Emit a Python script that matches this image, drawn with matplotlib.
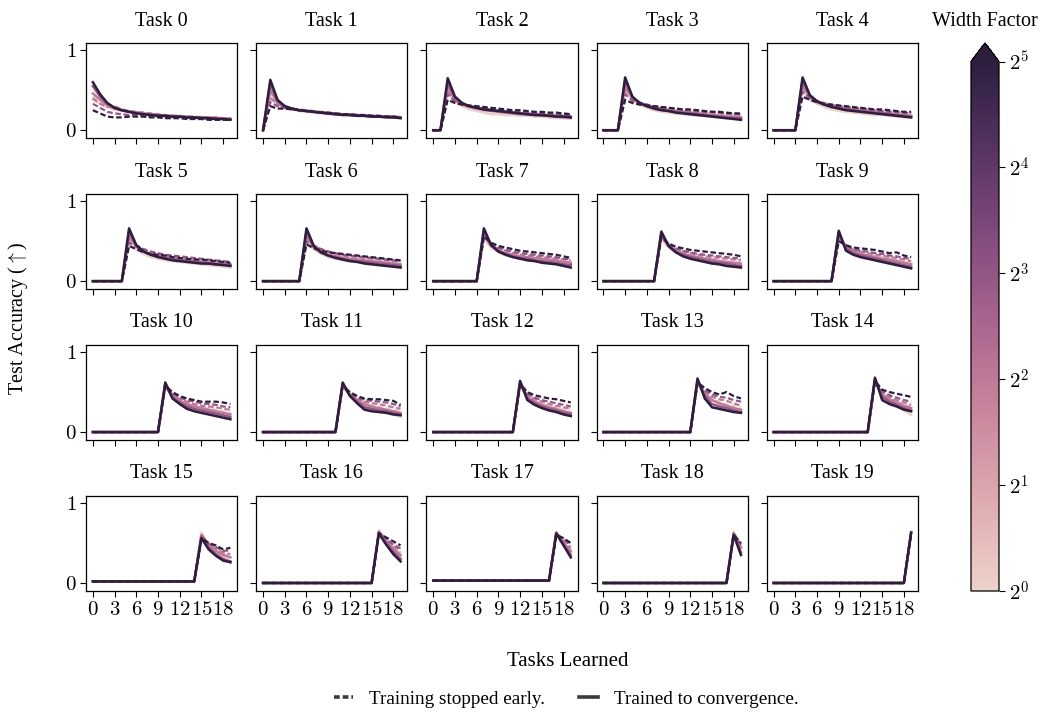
import matplotlib
matplotlib.use("Agg")
import matplotlib.pyplot as plt
import seaborn as sns
from matplotlib.colors import LogNorm
from matplotlib.cm import ScalarMappable
from matplotlib.lines import Line2D
from matplotlib.ticker import NullLocator

plt.rcParams['font.family'] = ['Liberation Serif', 'DejaVu Serif']
plt.rcParams['mathtext.fontset'] = 'cm'

# ---------------- data ----------------
tasks = list(range(20))
widths = [1, 4, 8, 32]
xtick_vals = [0, 3, 6, 9, 12, 15, 18]
xtick_labels = ['$0$', '$3$', '$6$', '$9$', '$12$', '$15$', '$18$']
ytick_vals = [0, 1]
ytick_labels = ['$0$', '$1$']
cbar_ticks = [1, 2, 4, 8, 16, 32]
cbar_labels = ['$2^0$', '$2^1$', '$2^2$', '$2^3$', '$2^4$', '$2^5$']

# accuracy on task t before it has been learned
pre_acc = [0, 0, 0, 0, 0, 0, 0, 0, 0, 0,
           0, 0, 0, 0, 0, 0.02, 0, 0.03, 0, 0]

# accuracy on task t from the moment it is learned (x = t .. 19)
conv = {
    32: [
        [.60, .45, .34, .28, .25, .23, .21, .20, .19, .18, .18, .17, .17, .16, .16, .15, .15, .14, .14, .13],
        [.63, .38, .30, .27, .25, .24, .23, .22, .21, .20, .19, .19, .18, .18, .17, .17, .16, .16, .15],
        [.65, .42, .34, .30, .28, .26, .25, .24, .23, .22, .21, .20, .19, .19, .18, .17, .17, .16],
        [.66, .42, .34, .30, .27, .25, .24, .22, .21, .20, .19, .18, .17, .16, .15, .14, .13],
        [.66, .44, .36, .32, .29, .27, .25, .24, .23, .22, .21, .20, .19, .18, .17, .16],
        [.66, .45, .37, .33, .30, .28, .26, .25, .24, .23, .22, .22, .21, .20, .19],
        [.66, .44, .36, .32, .29, .27, .25, .24, .22, .21, .20, .19, .18, .17],
        [.66, .45, .37, .33, .30, .28, .26, .25, .23, .22, .21, .19, .17],
        [.62, .44, .36, .31, .28, .26, .24, .22, .21, .19, .18, .17],
        [.63, .38, .33, .30, .28, .26, .24, .22, .20, .18, .16],
        [.62, .42, .35, .29, .26, .24, .22, .20, .18, .16],
        [.62, .45, .36, .28, .26, .25, .24, .22, .21],
        [.64, .40, .34, .30, .27, .25, .22, .20],
        [.67, .42, .31, .29, .27, .25, .24],
        [.68, .40, .35, .32, .28, .26],
        [.56, .42, .34, .28, .26],
        [.62, .48, .36, .27],
        [.62, .47, .32],
        [.60, .35],
        [.63],
    ],
    8: [
        [.55, .42, .33, .28, .25, .23, .22, .20, .19, .19, .18, .17, .17, .16, .16, .16, .15, .15, .14, .14],
        [.58, .36, .30, .27, .25, .24, .23, .22, .21, .20, .20, .19, .18, .18, .17, .17, .17, .16, .16],
        [.60, .40, .33, .30, .28, .26, .25, .24, .23, .22, .21, .20, .20, .19, .18, .18, .17, .17],
        [.62, .41, .34, .30, .28, .26, .24, .23, .22, .21, .20, .19, .18, .17, .16, .15, .15],
        [.62, .43, .36, .32, .30, .28, .26, .25, .24, .23, .22, .21, .20, .19, .18, .17],
        [.62, .44, .37, .33, .31, .29, .27, .26, .25, .24, .23, .22, .21, .21, .20],
        [.62, .43, .36, .32, .30, .28, .26, .25, .24, .23, .22, .21, .20, .19],
        [.63, .45, .38, .34, .31, .29, .28, .26, .25, .24, .23, .21, .20],
        [.60, .44, .37, .33, .30, .28, .26, .24, .23, .22, .20, .19],
        [.61, .40, .35, .32, .30, .28, .26, .24, .22, .20, .18],
        [.60, .43, .37, .32, .29, .27, .25, .23, .21, .19],
        [.60, .46, .38, .31, .29, .27, .26, .24, .22],
        [.62, .42, .36, .32, .29, .27, .24, .22],
        [.65, .45, .35, .32, .30, .27, .25],
        [.66, .44, .38, .34, .30, .27],
        [.58, .44, .36, .30, .27],
        [.63, .50, .39, .30],
        [.62, .48, .35],
        [.61, .38],
        [.63],
    ],
    4: [
        [.46, .38, .31, .27, .25, .23, .22, .21, .20, .19, .18, .18, .17, .17, .16, .16, .16, .15, .15, .14],
        [.50, .34, .29, .27, .25, .24, .23, .22, .21, .20, .20, .19, .19, .18, .18, .17, .17, .17, .16],
        [.55, .38, .32, .29, .27, .25, .24, .23, .22, .21, .20, .20, .19, .18, .18, .17, .16, .16],
        [.56, .40, .34, .31, .29, .27, .25, .24, .23, .22, .21, .20, .19, .18, .17, .17, .16],
        [.57, .41, .35, .32, .30, .28, .27, .26, .25, .24, .23, .22, .21, .20, .19, .18],
        [.57, .43, .37, .34, .31, .29, .28, .27, .26, .25, .24, .23, .22, .21, .21],
        [.57, .42, .36, .33, .31, .29, .28, .27, .26, .25, .24, .23, .22, .21],
        [.58, .44, .38, .35, .33, .31, .30, .29, .28, .27, .26, .24, .23],
        [.57, .44, .38, .34, .32, .30, .28, .27, .25, .24, .23, .22],
        [.58, .42, .37, .34, .32, .30, .28, .27, .25, .23, .21],
        [.58, .45, .39, .35, .32, .30, .28, .26, .24, .22],
        [.58, .47, .40, .35, .32, .30, .28, .26, .24],
        [.60, .44, .38, .34, .31, .29, .26, .24],
        [.63, .48, .40, .36, .33, .30, .28],
        [.64, .47, .41, .37, .33, .30],
        [.60, .47, .40, .35, .32],
        [.64, .53, .43, .35],
        [.63, .50, .40],
        [.62, .44],
        [.63],
    ],
    1: [
        [.38, .33, .29, .26, .24, .23, .22, .21, .20, .19, .18, .18, .17, .17, .16, .16, .15, .15, .15, .14],
        [.42, .32, .28, .26, .24, .23, .22, .21, .20, .20, .19, .19, .18, .18, .17, .17, .17, .16, .16],
        [.48, .35, .30, .26, .24, .22, .20, .20, .19, .19, .18, .18, .17, .17, .16, .15, .15, .14],
        [.50, .37, .32, .28, .25, .23, .22, .21, .20, .19, .18, .18, .17, .16, .15, .15, .14],
        [.50, .38, .33, .29, .26, .24, .23, .22, .21, .20, .19, .19, .18, .17, .16, .16],
        [.50, .40, .34, .30, .28, .26, .25, .24, .23, .22, .21, .20, .19, .18, .17],
        [.50, .40, .34, .30, .28, .26, .25, .24, .23, .22, .21, .20, .19, .18],
        [.52, .42, .36, .32, .30, .28, .27, .26, .25, .24, .23, .22, .21],
        [.52, .42, .36, .33, .30, .28, .27, .25, .24, .22, .21, .20],
        [.55, .43, .38, .35, .33, .31, .29, .28, .26, .24, .22],
        [.56, .45, .39, .35, .32, .30, .28, .26, .25, .23],
        [.57, .46, .40, .34, .30, .27, .25, .22, .19],
        [.58, .44, .38, .34, .31, .28, .26, .23],
        [.61, .47, .40, .35, .31, .27, .24],
        [.62, .45, .38, .33, .27, .22],
        [.63, .48, .40, .33, .25],
        [.66, .52, .41, .33],
        [.64, .50, .38],
        [.64, .46],
        [.64],
    ],
}

early = {
    32: [
        [.25, .21, .17, .16, .16, .17, .17, .17, .16, .16, .15, .15, .15, .14, .14, .14, .13, .13, .13, .13],
        [.30, .27, .27, .26, .25, .24, .23, .22, .22, .21, .20, .20, .19, .19, .18, .18, .17, .17, .16],
        [.38, .34, .32, .31, .30, .29, .28, .27, .26, .25, .25, .24, .23, .23, .22, .22, .21, .20],
        [.38, .34, .32, .31, .30, .29, .28, .27, .26, .26, .25, .24, .23, .23, .22, .21, .21],
        [.42, .38, .35, .33, .32, .31, .30, .29, .28, .27, .26, .26, .25, .24, .23, .23],
        [.44, .40, .36, .34, .33, .32, .30, .29, .28, .27, .27, .26, .25, .24, .23],
        [.46, .41, .38, .36, .35, .34, .33, .32, .31, .30, .29, .28, .27, .26],
        [.56, .48, .44, .42, .40, .38, .37, .36, .35, .34, .33, .31, .29],
        [.55, .47, .43, .41, .39, .38, .37, .36, .35, .34, .33, .31],
        [.50, .45, .42, .41, .40, .39, .37, .35, .36, .32, .30],
        [.58, .50, .45, .42, .40, .38, .38, .38, .37, .35],
        [.58, .50, .45, .42, .41, .41, .40, .39, .34],
        [.60, .50, .46, .44, .42, .41, .39, .37],
        [.62, .55, .50, .47, .50, .45, .42],
        [.64, .53, .50, .48, .46, .44],
        [.56, .50, .47, .42, .44],
        [.62, .57, .52, .47],
        [.60, .56, .50],
        [.60, .50],
        [.62],
    ],
    8: [
        [.33, .28, .23, .21, .20, .19, .19, .18, .17, .17, .16, .16, .16, .15, .15, .15, .14, .14, .14, .13],
        [.35, .30, .28, .26, .25, .24, .23, .22, .21, .21, .20, .19, .19, .18, .18, .17, .17, .17, .16],
        [.45, .36, .32, .30, .29, .28, .27, .26, .25, .24, .23, .23, .22, .21, .21, .20, .20, .19],
        [.45, .37, .34, .32, .30, .29, .28, .27, .26, .25, .24, .23, .23, .22, .21, .21, .20],
        [.48, .40, .36, .33, .31, .30, .29, .28, .27, .26, .25, .24, .23, .23, .22, .21],
        [.48, .44, .40, .37, .35, .33, .32, .31, .30, .29, .28, .27, .26, .25, .24],
        [.50, .44, .40, .37, .35, .33, .32, .31, .30, .29, .28, .27, .26, .25],
        [.56, .47, .42, .39, .37, .35, .34, .33, .32, .31, .30, .28, .27],
        [.56, .46, .41, .38, .36, .34, .33, .32, .31, .30, .29, .28],
        [.55, .44, .40, .38, .37, .35, .34, .32, .31, .29, .28],
        [.58, .48, .43, .40, .38, .36, .35, .34, .32, .31],
        [.58, .48, .43, .40, .39, .38, .37, .35, .32],
        [.60, .48, .43, .40, .38, .36, .34, .32],
        [.62, .52, .47, .44, .43, .40, .38],
        [.64, .51, .46, .43, .40, .38],
        [.58, .49, .45, .40, .41],
        [.63, .55, .48, .43],
        [.61, .55, .47],
        [.61, .48],
        [.62],
    ],
    4: [
        [.40, .33, .29, .30, .26, .24, .23, .22, .21, .20, .19, .18, .18, .17, .17, .16, .16, .16, .15, .15],
        [.40, .33, .29, .27, .26, .25, .24, .23, .22, .21, .20, .20, .19, .19, .18, .18, .17, .17, .17],
        [.50, .37, .32, .30, .28, .27, .26, .25, .24, .23, .22, .22, .21, .20, .20, .19, .19, .18],
        [.52, .40, .35, .32, .30, .28, .27, .26, .25, .24, .23, .23, .22, .21, .20, .20, .19],
        [.54, .42, .37, .34, .32, .30, .29, .28, .27, .26, .25, .24, .23, .22, .22, .21],
        [.54, .45, .40, .36, .34, .32, .31, .30, .29, .28, .27, .26, .25, .24, .23],
        [.55, .45, .40, .37, .34, .32, .31, .30, .29, .28, .27, .26, .25, .24],
        [.57, .46, .41, .38, .35, .33, .32, .31, .30, .29, .28, .27, .26],
        [.57, .45, .40, .37, .35, .33, .31, .30, .29, .28, .27, .26],
        [.57, .43, .39, .37, .35, .33, .32, .30, .29, .27, .25],
        [.60, .47, .41, .38, .35, .33, .32, .31, .29, .28],
        [.59, .47, .41, .38, .36, .35, .33, .31, .29],
        [.61, .47, .41, .38, .35, .33, .31, .29],
        [.62, .50, .44, .41, .39, .36, .33],
        [.64, .50, .44, .40, .37, .34],
        [.60, .49, .43, .38, .36],
        [.64, .54, .46, .40],
        [.62, .53, .44],
        [.62, .46],
        [.62],
    ],
    1: [
        [.42, .35, .31, .28, .26, .24, .23, .22, .21, .20, .19, .19, .18, .17, .17, .17, .16, .16, .15, .15],
        [.45, .34, .29, .27, .25, .24, .23, .22, .21, .21, .20, .19, .19, .18, .18, .17, .17, .16, .16],
        [.52, .38, .32, .29, .27, .26, .25, .24, .23, .22, .21, .21, .20, .19, .19, .18, .18, .17],
        [.55, .41, .35, .31, .29, .27, .26, .25, .24, .23, .22, .21, .21, .20, .19, .19, .18],
        [.57, .43, .37, .33, .31, .29, .27, .26, .25, .24, .23, .22, .22, .21, .20, .20],
        [.56, .44, .38, .34, .32, .30, .28, .27, .26, .25, .24, .23, .22, .21, .20],
        [.57, .44, .38, .34, .32, .30, .28, .27, .26, .25, .24, .23, .22, .21],
        [.58, .45, .39, .35, .33, .31, .29, .28, .27, .26, .25, .24, .23],
        [.58, .44, .38, .34, .32, .30, .28, .27, .26, .25, .24, .23],
        [.58, .43, .38, .35, .33, .31, .30, .28, .27, .25, .24],
        [.62, .46, .40, .36, .33, .31, .30, .28, .26, .25],
        [.60, .46, .40, .36, .34, .32, .30, .28, .26],
        [.62, .46, .40, .36, .33, .31, .29, .27],
        [.63, .49, .42, .38, .35, .33, .31],
        [.65, .49, .42, .38, .35, .32],
        [.62, .48, .41, .36, .33],
        [.65, .53, .44, .37],
        [.63, .52, .41],
        [.63, .47],
        [.63],
    ],
}

# ---------------- figure ----------------
W, H = 1045, 717
fig, axes = plt.subplots(4, 5, figsize=(W / 100, H / 100), dpi=100,
                         sharex=True, sharey=True)
fig.subplots_adjust(left=86 / W, right=918 / W, top=1 - 43 / H,
                    bottom=1 - 591 / H, wspace=0.125, hspace=0.585)

cmap = sns.cubehelix_palette(as_cmap=True)
norm = LogNorm(vmin=1, vmax=32)

for t, ax in enumerate(axes.flat):
    for w in widths:
        col = cmap(norm(w))
        y_e = [pre_acc[t]] * t + early[w][t]
        y_c = [pre_acc[t]] * t + conv[w][t]
        ax.plot(tasks, y_e, color=col, lw=1.6, dashes=(2.5, 1.2))
        ax.plot(tasks, y_c, color=col, lw=1.8)
    ax.set_title(f"Task {t}", fontsize=14.5, pad=12.5)
    ax.set_ylim(-0.1, 1.09)
    ax.set_yticks(ytick_vals)
    ax.set_yticklabels(ytick_labels)
    ax.set_xticks(xtick_vals)
    ax.set_xticklabels(xtick_labels)
    ax.tick_params(labelsize=15, length=4, width=0.8, pad=3)
    for s in ax.spines.values():
        s.set_linewidth(0.9)

fig.text(18 / W, 1 - 318 / H, "Test Accuracy ($\\uparrow$)", rotation=90,
         ha='center', va='center', fontsize=14.5)
fig.text(0.543, 1 - 662 / H, "Tasks Learned", ha='center', va='center',
         fontsize=15)

# colorbar
cax = fig.add_axes([971 / W, 1 - 591 / H, 28 / W, 548 / H])
sm = ScalarMappable(norm=norm, cmap=cmap)
cb = fig.colorbar(sm, cax=cax, extend='max', extendfrac=0.035)
cb.set_ticks(cbar_ticks)
cb.set_ticklabels(cbar_labels)
cax.yaxis.set_minor_locator(NullLocator())
cax.tick_params(labelsize=15, length=4, width=0.8)
cb.outline.set_linewidth(0.9)
cax.set_title("Width Factor", fontsize=14.5, pad=12.5)

# legend
handles = [Line2D([], [], color='#3a3a3a', lw=2.6, dashes=(1.6, 0.8)),
           Line2D([], [], color='#3a3a3a', lw=2.6)]
labels = ["Training stopped early.", "Trained to convergence."]
fig.legend(handles, labels, loc='center', bbox_to_anchor=(0.542, 1 - 699 / H),
           ncol=2, frameon=False, fontsize=13.8, handlelength=1.0,
           columnspacing=1.8)

fig.savefig("out.png", dpi=100)
